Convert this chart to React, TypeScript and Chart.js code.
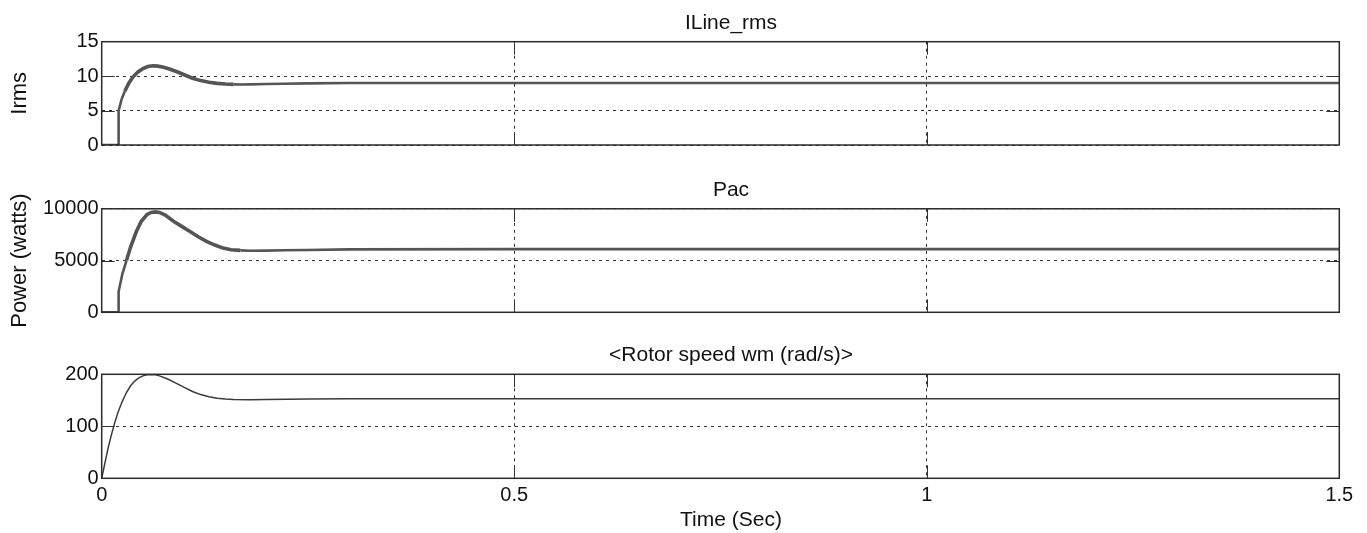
import React, { useEffect, useRef } from "react";
import { Chart, registerables } from "chart.js";

Chart.register(...registerables);

// ---- data ----
const timeIrms = [0, 0.0205, 0.0205, 0.024, 0.028, 0.033, 0.038, 0.044, 0.05, 0.056, 0.062, 0.068, 0.075, 0.083, 0.092, 0.1, 0.11, 0.12, 0.13, 0.14, 0.15, 0.16, 0.17, 0.18, 0.2, 0.22, 0.25, 0.3, 0.5, 0.8, 1.1, 1.5];
const irms = [0, 0, 5, 6.6, 7.8, 9.0, 9.9, 10.6, 11.1, 11.4, 11.5, 11.45, 11.3, 11.0, 10.6, 10.2, 9.7, 9.35, 9.1, 8.95, 8.85, 8.8, 8.78, 8.8, 8.85, 8.9, 8.95, 9.0, 9.0, 9.0, 9.0, 9.0];

const timePac = [0, 0.0205, 0.0205, 0.025, 0.03, 0.035, 0.042, 0.048, 0.055, 0.06, 0.065, 0.07, 0.077, 0.087, 0.097, 0.107, 0.117, 0.127, 0.137, 0.147, 0.157, 0.168, 0.18, 0.2, 0.22, 0.25, 0.3, 0.5, 0.8, 1.1, 1.5];
const pac = [0, 0, 2000, 3700, 5000, 6300, 7800, 8800, 9450, 9650, 9700, 9650, 9400, 8800, 8300, 7800, 7300, 6850, 6500, 6200, 6050, 5980, 5950, 5960, 5990, 6020, 6080, 6100, 6100, 6100, 6100];

const timeSpeed = [0, 0.004, 0.008, 0.012, 0.016, 0.02, 0.025, 0.03, 0.035, 0.04, 0.045, 0.05, 0.055, 0.06, 0.065, 0.07, 0.08, 0.09, 0.1, 0.11, 0.12, 0.13, 0.14, 0.15, 0.16, 0.18, 0.2, 0.25, 0.3, 1.5];
const speed = [0, 30, 60, 85, 108, 128, 148, 165, 178, 187, 193, 197, 199, 199.5, 199, 197, 191, 183, 175, 167, 161, 157, 154, 152.5, 151.5, 151, 151.5, 152.5, 153, 153];

const xTicks = [0, 0.5, 1, 1.5];
const irmsTicks = [0, 5, 10, 15];
const pacTicks = [0, 5000, 10000];
const speedTicks = [0, 100, 200];

const titles = ["ILine_rms", "Pac", "<Rotor speed wm (rad/s)>"];
const yLabels = ["Irms", "Power (watts)", ""];
const xLabel = "Time (Sec)";

// ---- layout ----
const FONT = "'Liberation Sans', Arial, Helvetica, sans-serif";
const CANVAS_W = 1462;
const LEFT_W = 101.7;
const RIGHT_W = 122.7;

const framePlugin = {
  id: "frame",
  afterDraw(chart: any) {
    const { ctx, chartArea: a, scales } = chart;
    const L = 13;
    ctx.save();
    ctx.strokeStyle = "#333";
    ctx.lineWidth = 1;
    ctx.setLineDash([]);
    const ys = scales.y;
    ys.ticks.forEach((t: any) => {
      if (t.value <= ys.min || t.value >= ys.max) return;
      const py = Math.round(ys.getPixelForValue(t.value)) + 0.5;
      ctx.beginPath();
      ctx.moveTo(a.left, py);
      ctx.lineTo(a.left + L, py);
      ctx.moveTo(a.right - L, py);
      ctx.lineTo(a.right, py);
      ctx.stroke();
    });
    const xs = scales.x;
    xs.ticks.forEach((t: any) => {
      if (t.value <= xs.min || t.value >= xs.max) return;
      const px = Math.round(xs.getPixelForValue(t.value)) + 0.5;
      ctx.beginPath();
      ctx.moveTo(px, a.top);
      ctx.lineTo(px, a.top + L);
      ctx.moveTo(px, a.bottom - L);
      ctx.lineTo(px, a.bottom);
      ctx.stroke();
    });
    ctx.lineWidth = 1.5;
    ctx.strokeStyle = "#2a2a2a";
    ctx.strokeRect(a.left, a.top, a.right - a.left, a.bottom - a.top);
    ctx.restore();
  },
};

type PanelProps = {
  top: number;
  height: number;
  times: number[];
  values: number[];
  yTicks: number[];
  title: string;
  titlePad: { top: number; bottom: number };
  yLabel: string;
  showX: boolean;
  bottomPad: number;
  thick: boolean;
};

function Panel(p: PanelProps) {
  const ref = useRef<HTMLCanvasElement | null>(null);
  useEffect(() => {
    if (!ref.current) return;
    const data = p.times.map((t, i) => ({ x: t, y: p.values[i] }));
    const yMin = p.yTicks[0];
    const yMax = p.yTicks[p.yTicks.length - 1];
    const step = p.yTicks[1] - p.yTicks[0];
    const chart = new Chart(ref.current, {
      type: "line",
      data: {
        datasets: [
          {
            data,
            borderColor: p.thick ? "#555" : "#3a3a3a",
            borderWidth: p.thick ? 2.6 : 1.5,
            pointRadius: 0,
            tension: 0,
            fill: false,
            segment: p.thick
              ? {
                  borderWidth: (c: any) =>
                    c.p0.parsed.x > 0.026 && c.p0.parsed.x < 0.16 ? 3.6 : 2.6,
                }
              : undefined,
          } as any,
        ],
      },
      options: {
        animation: false,
        responsive: false,
        devicePixelRatio: 1,
        events: [],
        layout: { padding: { left: 0, right: 0, top: 0, bottom: p.bottomPad } },
        plugins: {
          legend: { display: false },
          tooltip: { enabled: false },
          title: {
            display: true,
            text: p.title,
            color: "#111",
            font: { family: FONT, size: 21, weight: "normal" },
            padding: p.titlePad,
          },
          subtitle: p.showX
            ? {
                display: true,
                position: "bottom",
                text: xLabel,
                color: "#111",
                font: { family: FONT, size: 21, weight: "normal" },
                padding: { top: 2, bottom: 0 },
              }
            : { display: false },
        },
        scales: {
          x: {
            type: "linear",
            min: 0,
            max: 1.5,
            afterBuildTicks: (s: any) => {
              s.ticks = xTicks.map((v) => ({ value: v }));
            },
            ticks: {
              display: p.showX,
              padding: 5,
              color: "#111",
              font: { family: FONT, size: 20 },
              maxRotation: 0,
              callback: (v: any) => String(v),
            },
            grid: { color: "#333", lineWidth: 1, drawTicks: false },
            border: { display: false, dash: [3, 4] },
            afterFit: (s: any) => {
              s.height = p.showX ? 27.5 : 0;
            },
          },
          y: {
            type: "linear",
            min: yMin,
            max: yMax,
            afterBuildTicks: (s: any) => {
              s.ticks = p.yTicks.map((v) => ({ value: v }));
            },
            ticks: {
              stepSize: step,
              padding: 3,
              color: "#111",
              font: { family: FONT, size: 20 },
              callback: (v: any) => String(v),
            },
            grid: { color: "#333", lineWidth: 1, drawTicks: false },
            border: { display: false, dash: [3, 4] },
            title: {
              display: p.yLabel !== "",
              text: p.yLabel,
              color: "#111",
              font: { family: FONT, size: 22 },
              padding: { top: 7, bottom: 0 },
            },
            afterFit: (s: any) => {
              s.width = LEFT_W;
            },
          },
          yr: {
            type: "linear",
            position: "right",
            display: true,
            ticks: { display: false },
            grid: { display: false, drawTicks: false },
            border: { display: false },
            afterFit: (s: any) => {
              s.width = RIGHT_W;
            },
          },
        },
      } as any,
      plugins: [framePlugin],
    });
    return () => chart.destroy();
  }, []);
  return (
    <div
      style={{
        position: "absolute",
        left: 0,
        top: p.top,
        width: CANVAS_W,
        height: p.height,
      }}
    >
      <canvas
        ref={ref}
        width={CANVAS_W}
        height={p.height}
        style={{ width: CANVAS_W, height: p.height, display: "block" }}
      />
    </div>
  );
}

export default function App() {
  return (
    <div
      style={{
        position: "absolute",
        left: 0,
        top: 0,
        width: 1367,
        height: 533,
        overflow: "hidden",
        background: "#fff",
      }}
    >
      <Panel
        top={0}
        height={160}
        times={timeIrms}
        values={irms}
        yTicks={irmsTicks}
        title={titles[0]}
        titlePad={{ top: 10.4, bottom: 6.1 }}
        yLabel={yLabels[0]}
        showX={false}
        bottomPad={14.3}
        thick={true}
      />
      <Panel
        top={160}
        height={170}
        times={timePac}
        values={pac}
        yTicks={pacTicks}
        title={titles[1]}
        titlePad={{ top: 17.9, bottom: 5.7 }}
        yLabel={yLabels[1]}
        showX={false}
        bottomPad={17.7}
        thick={true}
      />
      <Panel
        top={330}
        height={203}
        times={timeSpeed}
        values={speed}
        yTicks={speedTicks}
        title={titles[2]}
        titlePad={{ top: 12.4, bottom: 6.7 }}
        yLabel={yLabels[2]}
        showX={true}
        bottomPad={0}
        thick={false}
      />
    </div>
  );
}
